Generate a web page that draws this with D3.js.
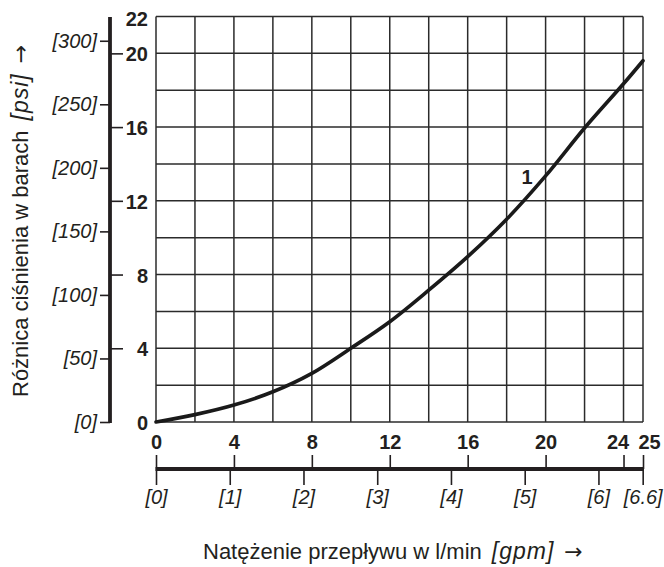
<!DOCTYPE html>
<html>
<head>
<meta charset="utf-8">
<script src="https://cdn.jsdelivr.net/npm/d3@7"></script>
<style>
  html, body { margin: 0; padding: 0; background: #fff; }
  svg { display: block; font-family: "Liberation Sans", Arial, sans-serif; }
</style>
</head>
<body>
<svg id="chart" width="664" height="567"></svg>
<script>
// ---- data ----
const flowLmin = [0, 2, 4, 6, 8, 10, 12, 14, 16, 18, 20, 22, 24, 25];
const pressureBar = [0, 0.4, 0.92, 1.64, 2.64, 4.0, 5.44, 7.15, 8.97, 11.0, 13.35, 15.95, 18.35, 19.6];
const curveLabel = "1";
const barLabelTicks = [0, 4, 8, 12, 16, 20, 22];
const barTickMarks = [4, 8, 12, 16, 20];
const psiTicks = [0, 50, 100, 150, 200, 250, 300];
const flowTicks = [0, 4, 8, 12, 16, 20, 24, 25];
const gpmTicks = [0, 1, 2, 3, 4, 5, 6, 6.6];
const gridX = [0, 2, 4, 6, 8, 10, 12, 14, 16, 18, 20, 22, 24, 25];
const gridY = [0, 2, 4, 6, 8, 10, 12, 14, 16, 18, 20, 22];
const yTitle = "Różnica ciśnienia w barach";
const yTitleUnit = "[psi]";
const xTitle = "Natężenie przepływu w l/min";
const xTitleUnit = "[gpm]";
const arrow = "→";
const BAR_PER_PSI = 1 / 14.5038;
const LMIN_PER_GPM = 3.78541;

// ---- layout ----
const ink = "#231f20";
const svg = d3.select("#chart");
const x = d3.scaleLinear().domain([0, 25]).range([156, 643]);
const y = d3.scaleLinear().domain([0, 22]).range([422, 16.5]);
const yPsi = d3.scaleLinear().domain([0, 22 / BAR_PER_PSI]).range(y.range());
const xGpm = d3.scaleLinear().domain([0, 25 / LMIN_PER_GPM]).range(x.range());

// grid
const grid = svg.append("g").attr("stroke", "#2b2b2b").attr("stroke-width", 1.5);
grid.selectAll("line.v").data(gridX).join("line").attr("class", "v")
  .attr("x1", d => x(d)).attr("x2", d => x(d))
  .attr("y1", y(0)).attr("y2", y(22));
grid.selectAll("line.h").data(gridY).join("line").attr("class", "h")
  .attr("x1", x(0)).attr("x2", x(25))
  .attr("y1", d => y(d)).attr("y2", d => y(d));

// curve
const line = d3.line().x((d, i) => x(flowLmin[i])).y(d => y(d)).curve(d3.curveCatmullRom.alpha(0.5));
svg.append("path").datum(pressureBar)
  .attr("d", line).attr("fill", "none").attr("stroke", "#1a1a1a")
  .attr("stroke-width", 3.6).attr("stroke-linecap", "round");
svg.append("text").attr("x", x(19.05)).attr("y", y(13.3)).attr("dy", "0.36em")
  .attr("text-anchor", "middle").attr("font-weight", "bold").attr("font-size", 20)
  .attr("fill", ink).text(curveLabel);

// left axis: thick line
const axisX = 110;
svg.append("line").attr("x1", axisX).attr("x2", axisX)
  .attr("y1", y(22) + 0.5).attr("y2", y(0) + 1)
  .attr("stroke", ink).attr("stroke-width", 3.8);

// bar ticks (right side)
const barAxis = svg.append("g").attr("transform", `translate(${axisX},0)`)
  .call(d3.axisRight(y).tickValues(barTickMarks).tickSize(13).tickFormat(""));
barAxis.select(".domain").remove();
barAxis.selectAll("line").attr("stroke", ink).attr("stroke-width", 1.6);
svg.append("g").selectAll("text").data(barLabelTicks).join("text")
  .attr("x", 148).attr("y", d => y(d)).attr("dy", d => d === 22 ? "0.45em" : "0.4em")
  .attr("text-anchor", "end").attr("font-weight", "bold").attr("font-size", 20)
  .attr("fill", ink).text(d => d);

// psi ticks (left side)
const psiAxis = svg.append("g").attr("transform", `translate(${axisX},0)`)
  .call(d3.axisLeft(yPsi).tickValues(psiTicks).tickSize(10).tickPadding(3)
    .tickFormat(d => `[${d}]`));
psiAxis.select(".domain").remove();
psiAxis.selectAll("line").attr("stroke", ink).attr("stroke-width", 1.6);
psiAxis.selectAll("text").attr("font-style", "italic").attr("font-size", 20)
  .attr("font-family", "'Liberation Sans', Arial, sans-serif").attr("fill", ink);

// bottom secondary axis
const axisY = 469;
svg.append("line").attr("x1", x(0) - 0.5).attr("x2", x(25) + 0.5)
  .attr("y1", axisY).attr("y2", axisY)
  .attr("stroke", ink).attr("stroke-width", 3.8);

const flowAxis = svg.append("g").attr("transform", `translate(0,${axisY})`)
  .call(d3.axisTop(x).tickValues(flowTicks).tickSize(14).tickPadding(6).tickFormat(d => d));
flowAxis.select(".domain").remove();
flowAxis.selectAll("line").attr("stroke", ink).attr("stroke-width", 1.6);
flowAxis.selectAll("text").attr("font-weight", "bold").attr("font-size", 20)
  .attr("font-family", "'Liberation Sans', Arial, sans-serif").attr("fill", ink)
  .attr("dx", d => d === 24 ? -6 : d === 25 ? 6 : 0);

const gpmAxis = svg.append("g").attr("transform", `translate(0,${axisY})`)
  .call(d3.axisBottom(xGpm).tickValues(gpmTicks).tickSize(16).tickPadding(5)
    .tickFormat(d => `[${d}]`));
gpmAxis.select(".domain").remove();
gpmAxis.selectAll("line").attr("stroke", ink).attr("stroke-width", 1.6);
gpmAxis.selectAll("text").attr("font-style", "italic").attr("font-size", 20)
  .attr("font-family", "'Liberation Sans', Arial, sans-serif").attr("fill", ink);

// titles
function title(sel, main, unit) {
  sel.append("tspan").text(main);
  sel.append("tspan").attr("dx", 10).attr("font-style", "italic")
    .attr("font-size", 23).attr("letter-spacing", 1).text(unit);
  sel.append("tspan").attr("dx", 10).attr("font-family", "'DejaVu Sans', sans-serif")
    .attr("font-size", 22).text(arrow);
}
const yt = svg.append("text").attr("transform", "translate(28,397) rotate(-90)")
  .attr("text-anchor", "start").attr("font-size", 22).attr("fill", ink);
title(yt, yTitle, yTitleUnit);

const xt = svg.append("text").attr("x", 203).attr("y", 559)
  .attr("text-anchor", "start").attr("font-size", 22).attr("fill", ink);
title(xt, xTitle, xTitleUnit);
</script>
</body>
</html>
